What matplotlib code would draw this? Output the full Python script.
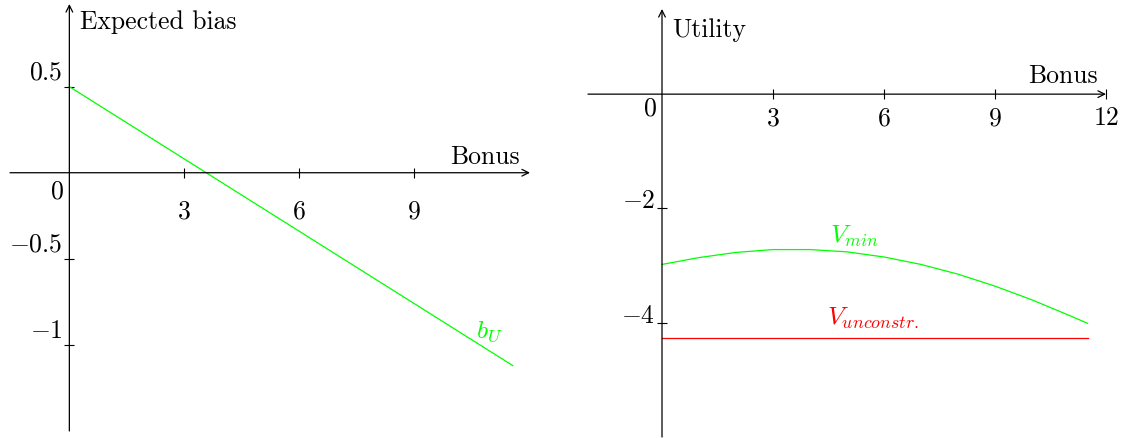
import matplotlib
matplotlib.use('Agg')
import matplotlib.pyplot as plt
import numpy as np

plt.rcParams['font.family'] = 'serif'
plt.rcParams['font.serif'] = ['cmr10']
plt.rcParams['mathtext.fontset'] = 'cm'
plt.rcParams['axes.unicode_minus'] = False

FS = 18.5

# left panel: expected bias vs bonus
bias_x = [0.0, 11.58]
bias_y = [0.5, -1.12]
bias_xticks = [3, 6, 9]
bias_yticks = [0.5, -0.5, -1]
bias_yticklabels = [r'$0.5$', r'$-0.5$', r'$-1$']

# right panel: utility vs bonus
vmin_x = [0, 1, 2, 3, 4, 5, 6, 7, 8, 9, 10, 11, 11.5]
vmin_y = [-2.98, -2.86, -2.77, -2.72, -2.72, -2.76, -2.85, -2.98, -3.15, -3.36, -3.60, -3.87, -4.01]
vunc_x = [0.0, 11.5]
vunc_y = [-4.26, -4.26]
util_xticks = [3, 6, 9, 12]
util_yticks = [-2, -4]
util_yticklabels = [r'$-2$', r'$-4$']

W, H = 1125, 439
fig = plt.figure(figsize=(W / 100, H / 100), dpi=100)


def make_axes(px_left, px_right, px_top, px_bottom, xlim, ylim):
    ax = fig.add_axes([px_left / W, (H - px_bottom) / H,
                       (px_right - px_left) / W, (px_bottom - px_top) / H])
    ax.set_xlim(*xlim)
    ax.set_ylim(*ylim)
    for s in ax.spines.values():
        s.set_visible(False)
    ax.set_xticks([])
    ax.set_yticks([])
    ax.patch.set_alpha(0)
    # axis lines with arrow heads
    arr = dict(arrowstyle='->', lw=0.9, color='black', shrinkA=0, shrinkB=0,
               mutation_scale=12)
    ax.annotate('', xy=(xlim[1], 0), xytext=(xlim[0], 0), arrowprops=arr,
                annotation_clip=False)
    ax.annotate('', xy=(0, ylim[1]), xytext=(0, ylim[0]), arrowprops=arr,
                annotation_clip=False)
    return ax


def ticks(ax, xt, yt, ytl, xdy, ydx, ydy):
    ax.plot(xt, [0] * len(xt), ls='none', marker='|', ms=7, mew=0.8,
            color='black', clip_on=False)
    ax.plot([0] * len(yt), yt, ls='none', marker='_', ms=7, mew=0.8,
            color='black', clip_on=False)
    for v in xt:
        ax.annotate(r'$%d$' % v, xy=(v, 0), xytext=(0, xdy),
                    textcoords='offset pixels', ha='center', va='center',
                    fontsize=FS)
    for v, lab in zip(yt, ytl):
        ax.annotate(lab, xy=(0, v), xytext=(ydx, ydy),
                    textcoords='offset pixels', ha='right', va='center',
                    fontsize=FS)


# ---- left
ax1 = make_axes(10, 530, 5, 432, (-1.55, 12.03), (-1.50, 0.98))
ticks(ax1, bias_xticks, bias_yticks, bias_yticklabels, -38, -7, 15)
ax1.annotate(r'$0$', xy=(0, 0), xytext=(-12, -18), textcoords='offset pixels',
             ha='center', va='center', fontsize=FS)
ax1.plot(bias_x, bias_y, color='#00ff00', lw=0.9)
ax1.annotate('Expected bias', xy=(0, 0.98), xytext=(11, -17),
             textcoords='offset pixels', ha='left', va='center', fontsize=FS)
ax1.annotate('Bonus', xy=(12.03, 0), xytext=(-10, 17),
             textcoords='offset pixels', ha='right', va='center', fontsize=FS)
ax1.text(bias_x[-1] - 0.6, bias_y[-1] + 0.2, r'$b_U$', color='#00ff00',
         ha='center', va='center', fontsize=FS)

# ---- right
ax2 = make_axes(588, 1106, 10, 438, (-2.0, 12.0), (-6.0, 1.49))
ticks(ax2, util_xticks, util_yticks, util_yticklabels, -23, -7, 8)
ax2.annotate(r'$0$', xy=(0, 0), xytext=(-12, -13), textcoords='offset pixels',
             ha='center', va='center', fontsize=FS)
ax2.plot(vmin_x, vmin_y, color='#00ff00', lw=0.9)
ax2.plot(vunc_x, vunc_y, color='#ff0000', lw=0.9)
ax2.annotate('Utility', xy=(0, 1.49), xytext=(10, -20),
             textcoords='offset pixels', ha='left', va='center', fontsize=FS)
ax2.annotate('Bonus', xy=(12.0, 0), xytext=(-8, 19),
             textcoords='offset pixels', ha='right', va='center', fontsize=FS)
ax2.text(5.2, -2.47, r'$V_{min}$', color='#00ff00', ha='center',
         va='center', fontsize=FS)
ax2.text(5.7, -3.9, r'$V_{unconstr.}$', color='#ff0000', ha='center',
         va='center', fontsize=FS)

fig.savefig('out.png', dpi=100)
